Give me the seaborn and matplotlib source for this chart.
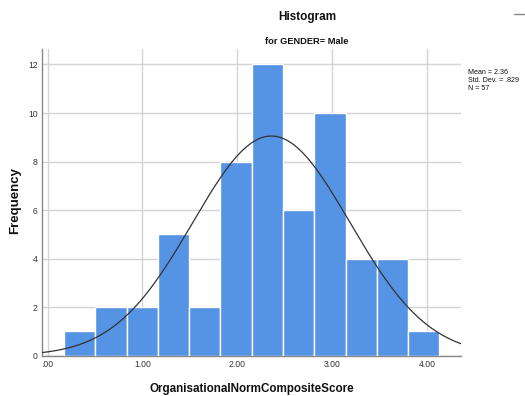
import numpy as np
import pandas as pd
import matplotlib
matplotlib.use("Agg")
import matplotlib.pyplot as plt
from matplotlib.lines import Line2D
import seaborn as sns

# ---- data ----
bin_edges = [0.172, 0.502, 0.832, 1.162, 1.492, 1.822, 2.152,
             2.482, 2.812, 3.142, 3.472, 3.802, 4.132]
counts = [1, 2, 2, 5, 2, 8, 12, 6, 10, 4, 4, 1]
x_ticks = [0, 1, 2, 3, 4]
x_tick_labels = [".00", "1.00", "2.00", "3.00", "4.00"]
y_ticks = [0, 2, 4, 6, 8, 10, 12]
mean_val = 2.36
sd_val = 0.829
n_val = 57
title = "Histogram"
subtitle = "for GENDER= Male"
x_label = "OrganisationalNormCompositeScore"
y_label = "Frequency"
stats_lines = ["Mean = 2.36", "Std. Dev. = .829", "N = 57"]

sns.set_theme(style="white")
plt.rcParams["font.family"] = ["Liberation Sans", "DejaVu Sans"]

fig = plt.figure(figsize=(5.25, 3.96), dpi=100)
ax = fig.add_axes([0.080, 0.1018, 0.798, 0.774])

centers = [(a + b) / 2 for a, b in zip(bin_edges[:-1], bin_edges[1:])]
df = pd.DataFrame({"score": centers, "count": counts})
sns.histplot(data=df, x="score", weights="count", bins=bin_edges, ax=ax,
             color="#5593e4", alpha=1.0, edgecolor="white", linewidth=1.0,
             zorder=3)

# fitted normal curve
bw = bin_edges[1] - bin_edges[0]
xlo, xhi = -0.06, 4.36
xs = np.linspace(xlo, xhi, 300)
ys = n_val * bw / (sd_val * np.sqrt(2 * np.pi)) * np.exp(-0.5 * ((xs - mean_val) / sd_val) ** 2)
sns.lineplot(x=xs, y=ys, ax=ax, color="#333333", linewidth=0.9, zorder=4)

ax.set_xlim(xlo, xhi)
ax.set_ylim(0, 12.63)
ax.set_xticks(x_ticks)
ax.set_xticklabels(x_tick_labels, fontsize=6.2, color="#333333")
ax.set_yticks(y_ticks)
ax.set_yticklabels([str(v) for v in y_ticks], fontsize=6.2, color="#333333")
ax.tick_params(axis="both", length=0, pad=3)
ax.grid(True, color="#d4d4d4", linewidth=1.0, zorder=0)
ax.set_axisbelow(True)
for s in ["top", "right"]:
    ax.spines[s].set_visible(False)
for s in ["left", "bottom"]:
    ax.spines[s].set_color("#888888")
    ax.spines[s].set_linewidth(1.0)
ax.set_xlabel("")
ax.set_ylabel("")

fig.text(307 / 525, 1 - 17 / 396, title, ha="center", va="center",
         fontsize=8.5, fontweight="bold", color="#111111")
fig.text(307 / 525, 1 - 41 / 396, subtitle, ha="center", va="center",
         fontsize=6.7, fontweight="bold", color="#111111")
fig.text(252 / 525, 1 - 389 / 396, x_label, ha="center", va="center",
         fontsize=8.4, fontweight="bold", color="#111111")
fig.text(15 / 525, 1 - 201 / 396, y_label, ha="center", va="center",
         rotation=90, fontsize=9.5, fontweight="bold", color="#111111")
for i, line in enumerate(stats_lines):
    fig.text(468 / 525, 1 - (72 + 8.3 * i) / 396, line, ha="left", va="center",
             fontsize=5.1, color="#111111")

fig.lines.append(Line2D([514 / 525, 525 / 525], [1 - 14.3 / 396, 1 - 14.3 / 396],
                        transform=fig.transFigure, color="#888888", linewidth=1.0))

fig.savefig("out.png", dpi=100)
